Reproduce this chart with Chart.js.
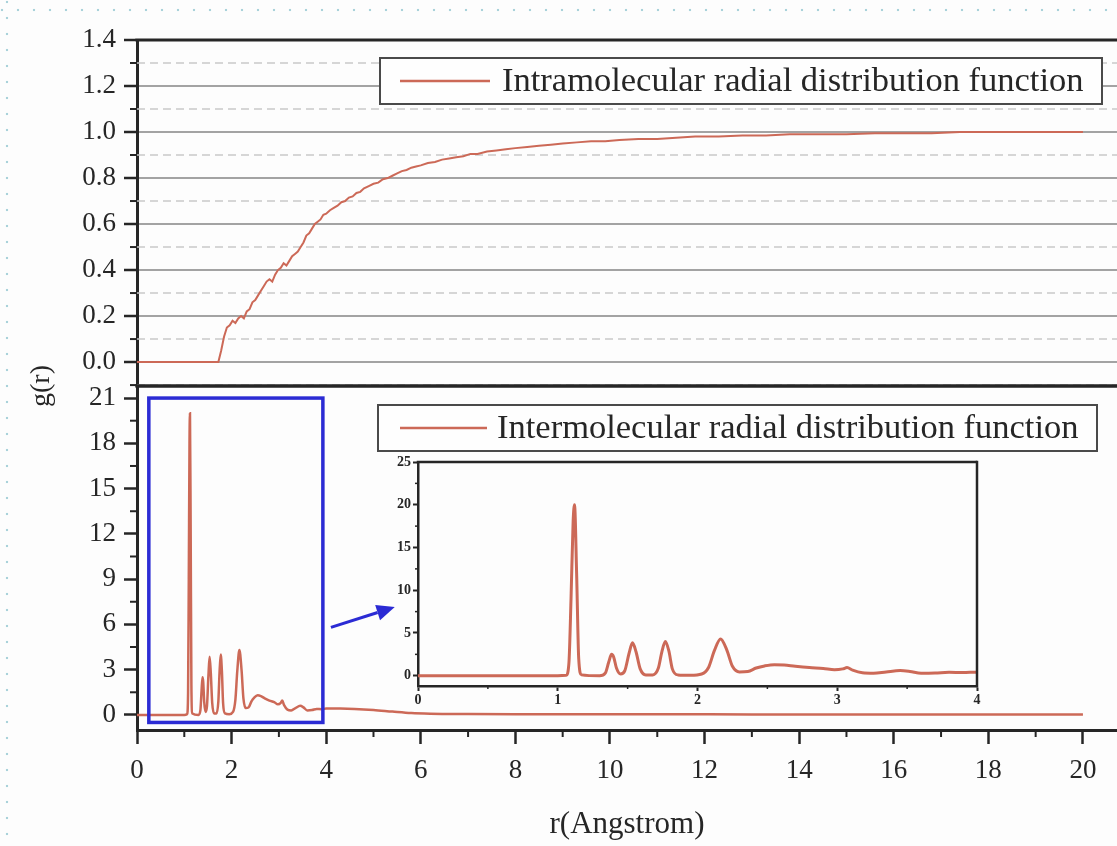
<!DOCTYPE html>
<html>
<head>
<meta charset="utf-8">
<title>Radial distribution functions</title>
<script src="https://cdn.jsdelivr.net/npm/chart.js@4.4.1/dist/chart.umd.min.js"></script>
<style>
  html, body { margin: 0; padding: 0; background: #fdfdfd; overflow: hidden; }
  #page { position: relative; width: 1117px; height: 846px; }
  canvas { position: absolute; }
  #intraChart, #interChart { left: 0; top: 0; }
  #insetChart { left: 380px; top: 450px; }
  .dots-h {
    position: absolute; left: 0; top: 8px; width: 1117px; height: 4px;
    background-image: radial-gradient(circle at 2px 2px, #a9d2da 1.1px, transparent 1.6px);
    background-size: 16px 4px;
  }
  .dots-v {
    position: absolute; left: 5px; top: 0; width: 4px; height: 846px;
    background-image: radial-gradient(circle at 2px 2px, #a9d2da 1.1px, transparent 1.6px);
    background-size: 4px 16px;
  }
</style>
</head>
<body>
<div id="page">
  <div class="dots-h"></div>
  <div class="dots-v"></div>
  <canvas id="intraChart" width="1117" height="846"></canvas>
  <canvas id="interChart" width="1117" height="846"></canvas>
  <canvas id="insetChart" width="610" height="270"></canvas>
</div>
<script>
// r in Angstrom, g(r) inside the molecule
const rIntra = [
  0, 1.72, 1.78, 1.84, 1.90, 1.96, 2.02, 2.08, 2.14, 2.20,
  2.26, 2.32, 2.38, 2.44, 2.50, 2.56, 2.62, 2.68, 2.74, 2.80,
  2.86, 2.92, 2.98, 3.04, 3.10, 3.16, 3.22, 3.28, 3.34, 3.40,
  3.46, 3.52, 3.58, 3.64, 3.70, 3.76, 3.82, 3.88, 3.94, 4.00,
  4.08, 4.16, 4.24, 4.32, 4.40, 4.48, 4.56, 4.64, 4.72, 4.80,
  4.90, 5.00, 5.10, 5.20, 5.30, 5.40, 5.50, 5.60, 5.70, 5.80,
  5.90, 6.00, 6.15, 6.30, 6.45, 6.60, 6.75, 6.90, 7.05, 7.20,
  7.40, 7.60, 7.80, 8.00, 8.25, 8.50, 8.75, 9.00, 9.30, 9.60,
  9.90, 10.2, 10.6, 11.0, 11.4, 11.8, 12.3, 12.8, 13.3, 13.8,
  14.4, 15.0, 15.6, 16.2, 16.8, 17.4, 18.0, 18.6, 19.2, 20.0
];
const gIntra = [
  0, 0, 0.05, 0.11, 0.15, 0.16, 0.18, 0.17, 0.19, 0.20,
  0.19, 0.22, 0.23, 0.26, 0.27, 0.29, 0.31, 0.33, 0.35, 0.36,
  0.35, 0.38, 0.40, 0.41, 0.43, 0.42, 0.44, 0.46, 0.47, 0.48,
  0.50, 0.52, 0.55, 0.56, 0.58, 0.60, 0.61, 0.62, 0.64, 0.645,
  0.66, 0.67, 0.68, 0.695, 0.70, 0.715, 0.72, 0.735, 0.74, 0.755,
  0.765, 0.775, 0.78, 0.795, 0.80, 0.81, 0.82, 0.83, 0.835, 0.845,
  0.85, 0.855, 0.865, 0.87, 0.88, 0.885, 0.89, 0.895, 0.905, 0.905,
  0.915, 0.92, 0.925, 0.93, 0.935, 0.94, 0.945, 0.95, 0.955, 0.96,
  0.96, 0.965, 0.97, 0.97, 0.975, 0.98, 0.98, 0.985, 0.985, 0.99,
  0.99, 0.99, 0.995, 0.995, 0.995, 1.0, 1.0, 1.0, 1.0, 1.0
];

// r in Angstrom, g(r) between molecules
const rInter = [
  0, 1.00, 1.06, 1.08, 1.095, 1.11, 1.12, 1.135, 1.15, 1.17,
  1.30, 1.34, 1.365, 1.385, 1.40, 1.42, 1.45, 1.48, 1.51, 1.535,
  1.56, 1.59, 1.63, 1.68, 1.72, 1.745, 1.77, 1.795, 1.82, 1.86,
  1.95, 2.03, 2.08, 2.12, 2.165, 2.21, 2.25, 2.30, 2.36, 2.42,
  2.48, 2.55, 2.62, 2.70, 2.80, 2.90, 2.98, 3.04, 3.07, 3.11,
  3.18, 3.26, 3.35, 3.45, 3.52, 3.60, 3.70, 3.80, 3.90, 4.00,
  4.30, 4.60, 5.00, 5.40, 5.80, 6.20, 7.00, 8.00, 10.0, 12.0,
  14.0, 16.0, 18.0, 20.0
];
const gInter = [
  0, 0, 0.05, 1.5, 9, 18, 20, 12, 2, 0.1,
  0, 0.3, 1.6, 2.5, 2.2, 0.9, 0.2, 0.6, 2.6, 3.85,
  2.8, 0.8, 0.1, 0.1, 0.9, 2.8, 4.0, 2.9, 0.8, 0.1,
  0.05, 0.2, 1.0, 2.9, 4.3, 3.0, 1.1, 0.45, 0.5, 0.9,
  1.15, 1.3, 1.25, 1.1, 0.95, 0.85, 0.7, 0.8, 0.95, 0.65,
  0.35, 0.3, 0.45, 0.6, 0.5, 0.3, 0.32, 0.4, 0.38, 0.42,
  0.42, 0.4, 0.33, 0.22, 0.12, 0.08, 0.06, 0.05, 0.04, 0.04,
  0.03, 0.03, 0.02, 0.02
];

const rTicks = [0, 2, 4, 6, 8, 10, 12, 14, 16, 18, 20];
const intraTicks = [0, 0.2, 0.4, 0.6, 0.8, 1.0, 1.2, 1.4];
const interTicks = [0, 3, 6, 9, 12, 15, 18, 21];
const insetRTicks = [0, 1, 2, 3, 4];
const insetGTicks = [0, 5, 10, 15, 20, 25];

// region blown up in the inset, and the arrow pointing at it
const zoomRange = { r: [0.25, 3.93], g: [-0.5, 21] };
const zoomArrow = { from: [4.1, 5.8], to: [5.45, 7.15] };

const SERIF = '"Liberation Serif", "Times New Roman", serif';
const INK = '#262626';
const TRACE = '#cc6957';
const BLUE = '#2b2bd4';

function points(xs, ys) {
  return xs.map((x, i) => ({ x: x, y: ys[i] }));
}

// positions halfway between major ticks, kept inside the axis range
function halfSteps(scale) {
  const t = scale.ticks.map(k => k.value);
  const step = t[1] - t[0];
  const out = [];
  for (let v = t[0] - step / 2; v <= scale.max + 1e-9; v += step) {
    if (v >= scale.min) out.push(v);
  }
  return out;
}

function seg(ctx, x1, y1, x2, y2) {
  ctx.beginPath();
  ctx.moveTo(x1, y1);
  ctx.lineTo(x2, y2);
  ctx.stroke();
}

// minor ticks, dashed minor grid and the plot frame
const axisDecor = {
  id: 'axisDecor',
  beforeDatasetsDraw(chart, args, o) {
    if (!o.dashedGrid) return;
    const { ctx, chartArea: a } = chart;
    const ys = chart.scales.y;
    ctx.save();
    ctx.strokeStyle = '#c9c9c9';
    ctx.lineWidth = 1.5;
    ctx.setLineDash([8, 5]);
    halfSteps(ys).forEach(v => {
      const p = ys.getPixelForValue(v);
      seg(ctx, a.left, p, a.right, p);
    });
    ctx.restore();
  },
  afterDraw(chart, args, o) {
    const { ctx, chartArea: a } = chart;
    const xs = chart.scales.x, ys = chart.scales.y;
    ctx.save();
    ctx.strokeStyle = INK;
    ctx.lineWidth = o.minorWidth || 2;
    halfSteps(ys).forEach(v => {
      const p = ys.getPixelForValue(v);
      seg(ctx, a.left - o.minorLen, p, a.left, p);
    });
    if (xs.options.display) {
      halfSteps(xs).forEach(v => {
        const p = xs.getPixelForValue(v);
        seg(ctx, p, a.bottom, p, a.bottom + o.minorLen);
      });
    }
    const fw = o.frameWidth || 3;
    ctx.lineWidth = fw;
    seg(ctx, a.left - fw / 2, a.top, a.right, a.top);
    if (o.bottomEdge) seg(ctx, a.left - fw / 2, a.bottom, a.right, a.bottom);
    if (o.rightEdge) seg(ctx, a.right, a.top - fw / 2, a.right, a.bottom + fw / 2);
    ctx.restore();
  }
};

// framed legend with a line sample
const boxLegend = {
  id: 'boxLegend',
  afterDraw(chart, args, o) {
    const ds = chart.data.datasets[0];
    const ctx = chart.ctx;
    const cy = o.y + o.h / 2;
    ctx.save();
    ctx.fillStyle = '#fefefe';
    ctx.fillRect(o.x, o.y, o.w, o.h);
    ctx.strokeStyle = '#4a4a4a';
    ctx.lineWidth = 2;
    ctx.strokeRect(o.x, o.y, o.w, o.h);
    ctx.strokeStyle = ds.borderColor;
    ctx.lineWidth = 2.5;
    seg(ctx, o.x + o.lineFrom, cy, o.x + o.lineTo, cy);
    ctx.fillStyle = INK;
    ctx.font = o.size + 'px ' + SERIF;
    ctx.textBaseline = 'middle';
    ctx.fillText(ds.label, o.x + o.textAt, cy + 1);
    ctx.restore();
  }
};

// blue box around the short-range peaks and the arrow to the inset
const zoomMark = {
  id: 'zoomMark',
  afterDatasetsDraw(chart) {
    const { ctx } = chart;
    const xs = chart.scales.x, ys = chart.scales.y;
    const x0 = xs.getPixelForValue(zoomRange.r[0]);
    const x1 = xs.getPixelForValue(zoomRange.r[1]);
    const y0 = ys.getPixelForValue(zoomRange.g[1]);
    const y1 = ys.getPixelForValue(zoomRange.g[0]);
    ctx.save();
    ctx.strokeStyle = BLUE;
    ctx.fillStyle = BLUE;
    ctx.lineWidth = 3.5;
    ctx.strokeRect(x0, y0, x1 - x0, y1 - y0);

    const ax = xs.getPixelForValue(zoomArrow.from[0]);
    const ay = ys.getPixelForValue(zoomArrow.from[1]);
    const bx = xs.getPixelForValue(zoomArrow.to[0]);
    const by = ys.getPixelForValue(zoomArrow.to[1]);
    const ang = Math.atan2(by - ay, bx - ax);
    const head = 18, half = 8;
    const hx = bx - head * Math.cos(ang), hy = by - head * Math.sin(ang);
    ctx.lineWidth = 3;
    seg(ctx, ax, ay, hx, hy);
    ctx.beginPath();
    ctx.moveTo(bx, by);
    ctx.lineTo(hx + half * Math.sin(ang), hy - half * Math.cos(ang));
    ctx.lineTo(hx - half * Math.sin(ang), hy + half * Math.cos(ang));
    ctx.closePath();
    ctx.fill();
    ctx.restore();
  }
};

// shared vertical title centred on the seam between the two panels
const sideTitle = {
  id: 'sideTitle',
  afterDraw(chart, args, o) {
    const ctx = chart.ctx;
    ctx.save();
    ctx.translate(o.x, chart.chartArea.top);
    ctx.rotate(-Math.PI / 2);
    ctx.fillStyle = INK;
    ctx.font = o.size + 'px ' + SERIF;
    ctx.textAlign = 'center';
    ctx.textBaseline = 'middle';
    ctx.fillText(o.text, 0, 0);
    ctx.restore();
  }
};

const tickFont = { family: SERIF, size: 27 };
const insetFont = { family: SERIF, size: 14, weight: 'bold' };

function fixedTicks(values) {
  return scale => { scale.ticks = values.map(v => ({ value: v })); };
}

const intraChart = new Chart(document.getElementById('intraChart'), {
  type: 'line',
  data: {
    datasets: [{
      label: 'Intramolecular radial distribution function',
      data: points(rIntra, gIntra),
      borderColor: TRACE,
      borderWidth: 2,
      pointRadius: 0,
      tension: 0
    }]
  },
  options: {
    responsive: false,
    animation: false,
    layout: { padding: { top: 40, bottom: 460, left: 0, right: 0 } },
    plugins: {
      legend: { display: false },
      tooltip: { enabled: false },
      axisDecor: { dashedGrid: true, bottomEdge: true, minorLen: 7 },
      boxLegend: { x: 380, y: 58, w: 722, h: 46, lineFrom: 20, lineTo: 110, textAt: 122, size: 34.5 }
    },
    scales: {
      x: { type: 'linear', display: false, min: 0, max: 20.72 },
      y: {
        min: -0.104,
        max: 1.4,
        afterBuildTicks: fixedTicks(intraTicks),
        afterFit: s => { s.width = 137; },
        ticks: { callback: v => v.toFixed(1), font: tickFont, color: INK, padding: 8 },
        grid: { color: '#a3a3a3', lineWidth: 2, tickColor: INK, tickWidth: 2.5, tickLength: 13 },
        border: { color: INK, width: 3 }
      }
    }
  },
  plugins: [axisDecor, boxLegend]
});

const interChart = new Chart(document.getElementById('interChart'), {
  type: 'line',
  data: {
    datasets: [{
      label: 'Intermolecular radial distribution function',
      data: points(rInter, gInter),
      borderColor: TRACE,
      borderWidth: 2.5,
      pointRadius: 0,
      cubicInterpolationMode: 'monotone'
    }]
  },
  options: {
    responsive: false,
    animation: false,
    layout: { padding: { top: 386, bottom: 0, left: 0, right: 0 } },
    plugins: {
      legend: { display: false },
      tooltip: { enabled: false },
      axisDecor: { minorLen: 7 },
      boxLegend: { x: 378, y: 405, w: 719, h: 46, lineFrom: 22, lineTo: 109, textAt: 119, size: 34.5 },
      sideTitle: { text: 'g(r)', x: 42, size: 28 }
    },
    scales: {
      x: {
        type: 'linear',
        min: 0,
        max: 20.72,
        afterBuildTicks: fixedTicks(rTicks),
        afterFit: s => { s.height = 116; },
        ticks: { font: tickFont, color: INK, padding: 11, autoSkip: false, maxRotation: 0 },
        grid: { drawOnChartArea: false, tickColor: INK, tickWidth: 2.5, tickLength: 14 },
        border: { color: INK, width: 3 }
        ,
        title: {
          display: true,
          text: 'r(Angstrom)',
          font: { family: SERIF, size: 31 },
          color: INK,
          padding: { top: 0, bottom: 3 }
        }
      },
      y: {
        min: -1,
        max: 21.8,
        afterBuildTicks: fixedTicks(interTicks),
        afterFit: s => { s.width = 137; },
        ticks: { font: tickFont, color: INK, padding: 8 },
        grid: { drawOnChartArea: false, tickColor: INK, tickWidth: 2.5, tickLength: 13 },
        border: { color: INK, width: 3 }
      }
    }
  },
  plugins: [axisDecor, zoomMark, boxLegend, sideTitle]
});

const insetChart = new Chart(document.getElementById('insetChart'), {
  type: 'line',
  data: {
    datasets: [{
      label: 'Intermolecular radial distribution function',
      data: points(rInter, gInter),
      borderColor: TRACE,
      borderWidth: 3,
      pointRadius: 0,
      cubicInterpolationMode: 'monotone'
    }]
  },
  options: {
    responsive: false,
    animation: false,
    layout: { padding: { top: 12, bottom: 0, left: 0, right: 13 } },
    plugins: {
      legend: { display: false },
      tooltip: { enabled: false },
      axisDecor: { rightEdge: true, minorLen: 3, minorWidth: 1.5, frameWidth: 2.5 }
    },
    scales: {
      x: {
        type: 'linear',
        min: 0,
        max: 4,
        afterBuildTicks: fixedTicks(insetRTicks),
        afterFit: s => { s.height = 34; },
        ticks: { font: insetFont, color: INK, padding: 1, autoSkip: false, maxRotation: 0 },
        grid: { drawOnChartArea: false, tickColor: INK, tickWidth: 2, tickLength: 5 },
        border: { color: INK, width: 2.5 }
      },
      y: {
        min: -1.2,
        max: 25,
        afterBuildTicks: fixedTicks(insetGTicks),
        afterFit: s => { s.width = 38; },
        ticks: { font: insetFont, color: INK, padding: 2 },
        grid: { drawOnChartArea: false, tickColor: INK, tickWidth: 2, tickLength: 5 },
        border: { color: INK, width: 2.5 }
      }
    }
  },
  plugins: [axisDecor]
});
</script>
</body>
</html>
